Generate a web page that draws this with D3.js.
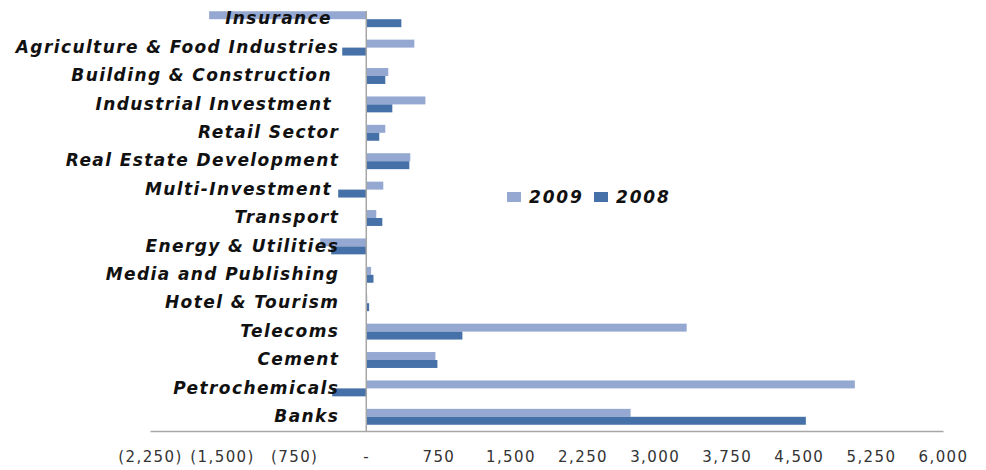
<!DOCTYPE html>
<head>
    <script src="https://d3js.org/d3.v7.min.js"></script>
    <style>
      body { margin: 0; background: #fff; }
    </style>
</head>

<body>
    <div id="chart"></div>
</body>

<script>

  // categories, top to bottom
  const sectors = ["Insurance ", "Agriculture & Food Industries", "Building & Construction ",
    "Industrial Investment ", "Retail Sector", "Real Estate Development", "Multi-Investment ",
    "Transport", "Energy & Utilities", "Media and Publishing", "Hotel & Tourism",
    "Telecoms", "Cement", "Petrochemicals", "Banks"];

  const years = ["2009", "2008"];

  const values2009 = [-1635, 500, 229, 615, 198, 458, 177, 104, -479, 50, 10, 3333, 719, 5083, 2750];
  const values2008 = [365, -250, 198, 271, 135, 448, -292, 167, -365, 75, 30, 1000, 740, -354, 4573];

  const xTicks = [-2250, -1500, -750, 0, 750, 1500, 2250, 3000, 3750, 4500, 5250, 6000];

  const colors = {"2009": "#94a8d1", "2008": "#4671a8"};

  const width = 986, height = 470;

  const data = sectors.map((s, i) => ({sector: s, "2009": values2009[i], "2008": values2008[i]}));

  const svg = d3.select("#chart")
    .append("svg")
    .attr("width", width)
    .attr("height", height);

  const x = d3.scaleLinear()
    .domain([-2250, 6000])
    .range([150, 943]);

  const y = d3.scaleBand()
    .domain(sectors)
    .range([5, 431])
    .paddingInner(0.44)
    .paddingOuter(0.22);

  const y1 = d3.scaleBand()
    .domain(years)
    .range([0, y.bandwidth()]);

  // Bars
  const groups = svg.append("g")
    .selectAll("g")
    .data(data)
    .join("g")
    .attr("transform", d => `translate(0, ${y(d.sector)})`);

  groups.selectAll("rect")
    .data(d => years.map(k => ({key: k, value: d[k]})))
    .join("rect")
    .attr("x", d => x(Math.min(0, d.value)))
    .attr("y", d => y1(d.key))
    .attr("width", d => Math.abs(x(d.value) - x(0)))
    .attr("height", y1.bandwidth())
    .attr("fill", d => colors[d.key]);

  // X Axis
  const fmt = v => v === 0 ? "-" : (v < 0 ? `(${d3.format(",")(-v)})` : d3.format(",")(v));
  const xAxis = svg.append("g")
    .attr("transform", `translate(0, 431)`)
    .call(d3.axisBottom(x).tickValues(xTicks).tickFormat(fmt).tickSize(0).tickPadding(20));
  xAxis.select(".domain").attr("stroke", "#a6a6a6").attr("stroke-width", 1.5);
  xAxis.selectAll("text")
    .style("font-family", "'DejaVu Sans', Verdana, sans-serif")
    .style("font-size", "15px")
    .style("letter-spacing", "1.4px")
    .attr("fill", "#333");

  // Y Axis (zero line with category labels)
  const yAxis = svg.append("g")
    .attr("transform", `translate(${x(0)}, 0)`)
    .call(d3.axisLeft(y).tickSize(0).tickPadding(0).tickSizeOuter(0));
  yAxis.select(".domain").attr("stroke", "#a6a6a6").attr("stroke-width", 1.5)
    .attr("d", `M0,11V431`);
  yAxis.selectAll("text")
    .attr("x", -27)
    .attr("dy", "0.3em")
    .style("white-space", "pre")
    .attr("xml:space", "preserve")
    .style("font-family", "'DejaVu Sans', Verdana, sans-serif")
    .style("font-size", "17px")
    .style("letter-spacing", "1.4px")
    .style("font-weight", "bold")
    .style("font-style", "italic")
    .attr("fill", "#111");

  // Legend
  const legend = svg.append("g").attr("transform", "translate(507, 192)");
  const legendX = [0, 87];
  years.forEach((k, i) => {
    legend.append("rect")
      .attr("x", legendX[i])
      .attr("y", 0)
      .attr("width", 14)
      .attr("height", 10)
      .attr("fill", colors[k]);
    legend.append("text")
      .attr("x", legendX[i] + 22)
      .attr("y", 11)
      .text(k)
      .style("font-family", "'DejaVu Sans', Verdana, sans-serif")
      .style("font-size", "17px")
      .style("letter-spacing", "1.8px")
      .style("font-weight", "bold")
      .style("font-style", "italic")
      .attr("fill", "#111");
  });

</script>
